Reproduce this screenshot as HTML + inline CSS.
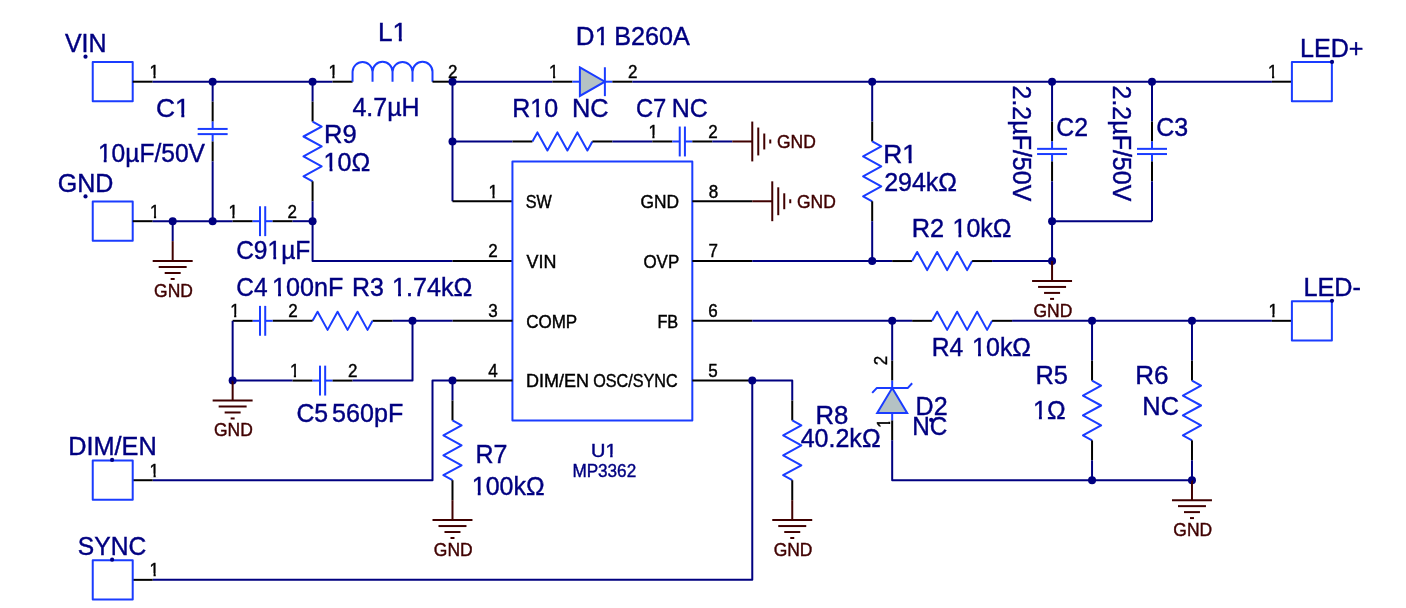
<!DOCTYPE html>
<html><head><meta charset="utf-8"><style>
html,body{margin:0;padding:0;background:#fff;}
svg{display:block;will-change:transform;}
text{font-family:"Liberation Sans",sans-serif;stroke-width:0.4px;}
</style></head><body>
<svg width="1406" height="608" viewBox="0 0 1406 608">
<rect width="1406" height="608" fill="#fff"/>
<path d="M92.74,62.08 L132.71,62.08 L132.71,101.33 L92.74,101.33 Z" stroke="#1a3cff" stroke-width="2.0" fill="none" stroke-linejoin="round"/>
<path d="M132.71,81.7 L152.69,81.7" stroke="#000000" stroke-width="2.0" fill="none" stroke-linejoin="round"/>
<path d="M152.69,81.7 L332.57,81.7" stroke="#000080" stroke-width="2.0" fill="none" stroke-linejoin="round"/>
<circle cx="212.65" cy="81.7" r="4" fill="#000080"/>
<circle cx="312.58" cy="81.7" r="4" fill="#000080"/>
<path d="M212.65,81.7 L212.65,101.63" stroke="#000080" stroke-width="2.0" fill="none" stroke-linejoin="round"/>
<path d="M212.65,101.63 L212.65,121.56" stroke="#000000" stroke-width="2.0" fill="none" stroke-linejoin="round"/>
<path d="M212.65,121.56 L212.65,128.93" stroke="#1a3cff" stroke-width="2.0" fill="none" stroke-linejoin="round"/>
<path d="M212.65,134.11 L212.65,141.48" stroke="#1a3cff" stroke-width="2.0" fill="none" stroke-linejoin="round"/>
<path d="M197.66,128.93 L227.64,128.93" stroke="#1a3cff" stroke-width="2.0" fill="none" stroke-linejoin="round"/>
<path d="M197.66,134.11 L227.64,134.11" stroke="#1a3cff" stroke-width="2.0" fill="none" stroke-linejoin="round"/>
<path d="M212.65,141.48 L212.65,161.41" stroke="#000000" stroke-width="2.0" fill="none" stroke-linejoin="round"/>
<path d="M212.65,161.41 L212.65,221.19" stroke="#000080" stroke-width="2.0" fill="none" stroke-linejoin="round"/>
<path d="M312.58,81.7 L312.58,101.63" stroke="#000080" stroke-width="2.0" fill="none" stroke-linejoin="round"/>
<path d="M312.58,101.63 L312.58,121.56" stroke="#000000" stroke-width="2.0" fill="none" stroke-linejoin="round"/>
<path d="M312.58,121.56 L321.68,126.54 L303.49,136.5 L321.68,146.46 L303.49,156.43 L321.68,166.39 L303.49,176.35 L312.58,181.33" stroke="#1a3cff" stroke-width="2.0" fill="none" stroke-linejoin="round"/>
<path d="M312.58,181.33 L312.58,201.26" stroke="#000000" stroke-width="2.0" fill="none" stroke-linejoin="round"/>
<path d="M312.58,201.26 L312.58,221.19" stroke="#000080" stroke-width="2.0" fill="none" stroke-linejoin="round"/>
<path d="M92.74,201.56 L132.71,201.56 L132.71,240.81 L92.74,240.81 Z" stroke="#1a3cff" stroke-width="2.0" fill="none" stroke-linejoin="round"/>
<path d="M132.71,221.19 L152.69,221.19" stroke="#000000" stroke-width="2.0" fill="none" stroke-linejoin="round"/>
<path d="M152.69,221.19 L232.64,221.19" stroke="#000080" stroke-width="2.0" fill="none" stroke-linejoin="round"/>
<circle cx="172.68" cy="221.19" r="4" fill="#000080"/>
<circle cx="212.65" cy="221.19" r="4" fill="#000080"/>
<path d="M172.68,221.19 L172.68,241.11" stroke="#000080" stroke-width="2.0" fill="none" stroke-linejoin="round"/>
<path d="M172.68,241.11 L172.68,261.04" stroke="#400000" stroke-width="2.0" fill="none" stroke-linejoin="round"/>
<path d="M152.69,261.04 L192.67,261.04" stroke="#400000" stroke-width="2.0" fill="none" stroke-linejoin="round"/>
<path d="M158.69,267.02 L186.67,267.02" stroke="#400000" stroke-width="2.0" fill="none" stroke-linejoin="round"/>
<path d="M164.69,272.99 L180.68,272.99" stroke="#400000" stroke-width="2.0" fill="none" stroke-linejoin="round"/>
<path d="M170.68,278.97 L174.68,278.97" stroke="#400000" stroke-width="2.0" fill="none" stroke-linejoin="round"/>
<path d="M232.64,221.19 L252.62,221.19" stroke="#000000" stroke-width="2.0" fill="none" stroke-linejoin="round"/>
<path d="M252.62,221.19 L260.02,221.19" stroke="#1a3cff" stroke-width="2.0" fill="none" stroke-linejoin="round"/>
<path d="M265.22,221.19 L272.61,221.19" stroke="#1a3cff" stroke-width="2.0" fill="none" stroke-linejoin="round"/>
<path d="M260.02,206.24 L260.02,236.13" stroke="#1a3cff" stroke-width="2.0" fill="none" stroke-linejoin="round"/>
<path d="M265.22,206.24 L265.22,236.13" stroke="#1a3cff" stroke-width="2.0" fill="none" stroke-linejoin="round"/>
<path d="M272.61,221.19 L292.6,221.19" stroke="#000000" stroke-width="2.0" fill="none" stroke-linejoin="round"/>
<path d="M292.6,221.19 L312.58,221.19" stroke="#000080" stroke-width="2.0" fill="none" stroke-linejoin="round"/>
<circle cx="312.58" cy="221.19" r="4" fill="#000080"/>
<path d="M312.58,221.19 L312.58,261.04 L452.49,261.04" stroke="#000080" stroke-width="2.0" fill="none" stroke-linejoin="round"/>
<path d="M452.49,261.04 L512.44,261.04" stroke="#000000" stroke-width="2.0" fill="none" stroke-linejoin="round"/>
<path d="M332.57,81.7 L352.56,81.7" stroke="#000000" stroke-width="2.0" fill="none" stroke-linejoin="round"/>
<path d="M352.56,81.7 L352.56,71.74 A9.993,9.963 0 0 1 372.54,71.74 L372.54,81.7 M372.54,81.7 L372.54,71.74 A9.993,9.963 0 0 1 392.53,71.74 L392.53,81.7 M392.53,81.7 L392.53,71.74 A9.993,9.963 0 0 1 412.51,71.74 L412.51,81.7 M412.51,81.7 L412.51,71.74 A9.993,9.963 0 0 1 432.5,71.74 L432.5,81.7" stroke="#1a3cff" stroke-width="2.0" fill="none"/>
<path d="M432.5,81.7 L452.49,81.7" stroke="#000000" stroke-width="2.0" fill="none" stroke-linejoin="round"/>
<circle cx="452.49" cy="81.7" r="4" fill="#000080"/>
<path d="M452.49,81.7 L552.41,81.7" stroke="#000080" stroke-width="2.0" fill="none" stroke-linejoin="round"/>
<path d="M552.41,81.7 L572.4,81.7" stroke="#000000" stroke-width="2.0" fill="none" stroke-linejoin="round"/>
<path d="M572.4,81.7 L579.9,81.7" stroke="#1a3cff" stroke-width="2.0" fill="none" stroke-linejoin="round"/>
<path d="M604.88,81.7 L612.37,81.7" stroke="#1a3cff" stroke-width="2.0" fill="none" stroke-linejoin="round"/>
<path d="M579.9,67.46 L604.88,81.7 L579.9,95.95 Z" fill="#b4c2c4" stroke="#1a3cff" stroke-width="2.0" stroke-linejoin="miter"/>
<path d="M604.88,67.26 L604.88,96.15" stroke="#1a3cff" stroke-width="2.0" fill="none" stroke-linejoin="round"/>
<path d="M612.37,81.7 L632.36,81.7" stroke="#000000" stroke-width="2.0" fill="none" stroke-linejoin="round"/>
<path d="M632.36,81.7 L1271.91,81.7" stroke="#000080" stroke-width="2.0" fill="none" stroke-linejoin="round"/>
<path d="M1271.91,81.7 L1291.9,81.7" stroke="#000000" stroke-width="2.0" fill="none" stroke-linejoin="round"/>
<path d="M1291.9,62.08 L1331.87,62.08 L1331.87,101.33 L1291.9,101.33 Z" stroke="#1a3cff" stroke-width="2.0" fill="none" stroke-linejoin="round"/>
<path d="M452.49,81.7 L452.49,201.26" stroke="#000080" stroke-width="2.0" fill="none" stroke-linejoin="round"/>
<circle cx="452.49" cy="141.48" r="4" fill="#000080"/>
<path d="M452.49,201.26 L512.44,201.26" stroke="#000000" stroke-width="2.0" fill="none" stroke-linejoin="round"/>
<path d="M452.49,141.48 L512.44,141.48" stroke="#000080" stroke-width="2.0" fill="none" stroke-linejoin="round"/>
<path d="M512.44,141.48 L532.43,141.48" stroke="#000000" stroke-width="2.0" fill="none" stroke-linejoin="round"/>
<path d="M532.43,141.48 L537.43,132.42 L547.42,150.55 L557.41,132.42 L567.4,150.55 L577.4,132.42 L587.39,150.55 L592.39,141.48" stroke="#1a3cff" stroke-width="2.0" fill="none" stroke-linejoin="round"/>
<path d="M592.39,141.48 L612.37,141.48" stroke="#000000" stroke-width="2.0" fill="none" stroke-linejoin="round"/>
<path d="M612.37,141.48 L652.34,141.48" stroke="#000080" stroke-width="2.0" fill="none" stroke-linejoin="round"/>
<path d="M652.34,141.48 L672.33,141.48" stroke="#000000" stroke-width="2.0" fill="none" stroke-linejoin="round"/>
<path d="M672.33,141.48 L679.73,141.48" stroke="#1a3cff" stroke-width="2.0" fill="none" stroke-linejoin="round"/>
<path d="M684.92,141.48 L692.32,141.48" stroke="#1a3cff" stroke-width="2.0" fill="none" stroke-linejoin="round"/>
<path d="M679.73,126.54 L679.73,156.43" stroke="#1a3cff" stroke-width="2.0" fill="none" stroke-linejoin="round"/>
<path d="M684.92,126.54 L684.92,156.43" stroke="#1a3cff" stroke-width="2.0" fill="none" stroke-linejoin="round"/>
<path d="M692.32,141.48 L712.3,141.48" stroke="#000000" stroke-width="2.0" fill="none" stroke-linejoin="round"/>
<path d="M712.3,141.48 L732.29,141.48" stroke="#000080" stroke-width="2.0" fill="none" stroke-linejoin="round"/>
<path d="M732.29,141.48 L752.27,141.48" stroke="#400000" stroke-width="2.0" fill="none" stroke-linejoin="round"/>
<path d="M752.27,121.56 L752.27,161.41" stroke="#400000" stroke-width="2.0" fill="none" stroke-linejoin="round"/>
<path d="M758.27,127.53 L758.27,155.43" stroke="#400000" stroke-width="2.0" fill="none" stroke-linejoin="round"/>
<path d="M764.27,133.51 L764.27,149.45" stroke="#400000" stroke-width="2.0" fill="none" stroke-linejoin="round"/>
<path d="M770.26,139.49 L770.26,143.47" stroke="#400000" stroke-width="2.0" fill="none" stroke-linejoin="round"/>
<path d="M512.44,161.41 L692.32,161.41 L692.32,420.45 L512.44,420.45 Z" stroke="#1a3cff" stroke-width="2.0" fill="none" stroke-linejoin="round"/>
<path d="M692.32,201.26 L752.27,201.26" stroke="#000000" stroke-width="2.0" fill="none" stroke-linejoin="round"/>
<path d="M752.27,201.26 L772.26,201.26" stroke="#400000" stroke-width="2.0" fill="none" stroke-linejoin="round"/>
<path d="M772.26,181.33 L772.26,221.19" stroke="#400000" stroke-width="2.0" fill="none" stroke-linejoin="round"/>
<path d="M778.26,187.31 L778.26,215.21" stroke="#400000" stroke-width="2.0" fill="none" stroke-linejoin="round"/>
<path d="M784.25,193.29 L784.25,209.23" stroke="#400000" stroke-width="2.0" fill="none" stroke-linejoin="round"/>
<path d="M790.25,199.27 L790.25,203.25" stroke="#400000" stroke-width="2.0" fill="none" stroke-linejoin="round"/>
<path d="M692.32,261.04 L752.27,261.04" stroke="#000000" stroke-width="2.0" fill="none" stroke-linejoin="round"/>
<path d="M752.27,261.04 L892.18,261.04" stroke="#000080" stroke-width="2.0" fill="none" stroke-linejoin="round"/>
<circle cx="872.19" cy="261.04" r="4" fill="#000080"/>
<path d="M892.18,261.04 L912.16,261.04" stroke="#000000" stroke-width="2.0" fill="none" stroke-linejoin="round"/>
<path d="M912.16,261.04 L917.16,251.97 L927.15,270.1 L937.15,251.97 L947.14,270.1 L957.13,251.97 L967.12,270.1 L972.12,261.04" stroke="#1a3cff" stroke-width="2.0" fill="none" stroke-linejoin="round"/>
<path d="M972.12,261.04 L992.11,261.04" stroke="#000000" stroke-width="2.0" fill="none" stroke-linejoin="round"/>
<path d="M992.11,261.04 L1052.06,261.04" stroke="#000080" stroke-width="2.0" fill="none" stroke-linejoin="round"/>
<circle cx="1052.06" cy="261.04" r="4" fill="#000080"/>
<path d="M1052.06,261.04 L1052.06,280.96" stroke="#400000" stroke-width="2.0" fill="none" stroke-linejoin="round"/>
<path d="M1032.08,280.96 L1072.05,280.96" stroke="#400000" stroke-width="2.0" fill="none" stroke-linejoin="round"/>
<path d="M1038.07,286.94 L1066.06,286.94" stroke="#400000" stroke-width="2.0" fill="none" stroke-linejoin="round"/>
<path d="M1044.07,292.92 L1060.06,292.92" stroke="#400000" stroke-width="2.0" fill="none" stroke-linejoin="round"/>
<path d="M1050.07,298.9 L1054.06,298.9" stroke="#400000" stroke-width="2.0" fill="none" stroke-linejoin="round"/>
<circle cx="872.19" cy="81.7" r="4" fill="#000080"/>
<path d="M872.19,81.7 L872.19,121.56" stroke="#000080" stroke-width="2.0" fill="none" stroke-linejoin="round"/>
<path d="M872.19,121.56 L872.19,141.48" stroke="#000000" stroke-width="2.0" fill="none" stroke-linejoin="round"/>
<path d="M872.19,141.48 L881.28,146.46 L863.1,156.43 L881.28,166.39 L863.1,176.35 L881.28,186.32 L863.1,196.28 L872.19,201.26" stroke="#1a3cff" stroke-width="2.0" fill="none" stroke-linejoin="round"/>
<path d="M872.19,201.26 L872.19,221.19" stroke="#000000" stroke-width="2.0" fill="none" stroke-linejoin="round"/>
<path d="M872.19,221.19 L872.19,261.04" stroke="#000080" stroke-width="2.0" fill="none" stroke-linejoin="round"/>
<circle cx="1052.06" cy="81.7" r="4" fill="#000080"/>
<path d="M1052.06,81.7 L1052.06,121.56" stroke="#000080" stroke-width="2.0" fill="none" stroke-linejoin="round"/>
<path d="M1052.06,121.56 L1052.06,141.48" stroke="#000000" stroke-width="2.0" fill="none" stroke-linejoin="round"/>
<path d="M1052.06,141.48 L1052.06,148.85" stroke="#1a3cff" stroke-width="2.0" fill="none" stroke-linejoin="round"/>
<path d="M1052.06,154.04 L1052.06,161.41" stroke="#1a3cff" stroke-width="2.0" fill="none" stroke-linejoin="round"/>
<path d="M1037.08,148.85 L1067.05,148.85" stroke="#1a3cff" stroke-width="2.0" fill="none" stroke-linejoin="round"/>
<path d="M1037.08,154.04 L1067.05,154.04" stroke="#1a3cff" stroke-width="2.0" fill="none" stroke-linejoin="round"/>
<path d="M1052.06,161.41 L1052.06,181.33" stroke="#000000" stroke-width="2.0" fill="none" stroke-linejoin="round"/>
<path d="M1052.06,181.33 L1052.06,221.19" stroke="#000080" stroke-width="2.0" fill="none" stroke-linejoin="round"/>
<circle cx="1151.99" cy="81.7" r="4" fill="#000080"/>
<path d="M1151.99,81.7 L1151.99,121.56" stroke="#000080" stroke-width="2.0" fill="none" stroke-linejoin="round"/>
<path d="M1151.99,121.56 L1151.99,141.48" stroke="#000000" stroke-width="2.0" fill="none" stroke-linejoin="round"/>
<path d="M1151.99,141.48 L1151.99,148.85" stroke="#1a3cff" stroke-width="2.0" fill="none" stroke-linejoin="round"/>
<path d="M1151.99,154.04 L1151.99,161.41" stroke="#1a3cff" stroke-width="2.0" fill="none" stroke-linejoin="round"/>
<path d="M1137.01,148.85 L1166.98,148.85" stroke="#1a3cff" stroke-width="2.0" fill="none" stroke-linejoin="round"/>
<path d="M1137.01,154.04 L1166.98,154.04" stroke="#1a3cff" stroke-width="2.0" fill="none" stroke-linejoin="round"/>
<path d="M1151.99,161.41 L1151.99,181.33" stroke="#000000" stroke-width="2.0" fill="none" stroke-linejoin="round"/>
<path d="M1151.99,181.33 L1151.99,221.19" stroke="#000080" stroke-width="2.0" fill="none" stroke-linejoin="round"/>
<path d="M1151.99,221.19 L1052.06,221.19 L1052.06,261.04" stroke="#000080" stroke-width="2.0" fill="none" stroke-linejoin="round"/>
<circle cx="1052.06" cy="221.19" r="4" fill="#000080"/>
<path d="M692.32,320.82 L752.27,320.82" stroke="#000000" stroke-width="2.0" fill="none" stroke-linejoin="round"/>
<path d="M752.27,320.82 L912.16,320.82" stroke="#000080" stroke-width="2.0" fill="none" stroke-linejoin="round"/>
<circle cx="892.18" cy="320.82" r="4" fill="#000080"/>
<path d="M912.16,320.82 L932.15,320.82" stroke="#000000" stroke-width="2.0" fill="none" stroke-linejoin="round"/>
<path d="M932.15,320.82 L937.15,311.75 L947.14,329.88 L957.13,311.75 L967.12,329.88 L977.12,311.75 L987.11,329.88 L992.11,320.82" stroke="#1a3cff" stroke-width="2.0" fill="none" stroke-linejoin="round"/>
<path d="M992.11,320.82 L1012.09,320.82" stroke="#000000" stroke-width="2.0" fill="none" stroke-linejoin="round"/>
<path d="M1012.09,320.82 L1271.91,320.82" stroke="#000080" stroke-width="2.0" fill="none" stroke-linejoin="round"/>
<path d="M1271.91,320.82 L1291.9,320.82" stroke="#000000" stroke-width="2.0" fill="none" stroke-linejoin="round"/>
<path d="M1291.9,301.19 L1331.87,301.19 L1331.87,340.44 L1291.9,340.44 Z" stroke="#1a3cff" stroke-width="2.0" fill="none" stroke-linejoin="round"/>
<circle cx="1092.04" cy="320.82" r="4" fill="#000080"/>
<circle cx="1191.97" cy="320.82" r="4" fill="#000080"/>
<path d="M1092.04,320.82 L1092.04,360.67" stroke="#000080" stroke-width="2.0" fill="none" stroke-linejoin="round"/>
<path d="M1092.04,360.67 L1092.04,380.59" stroke="#000000" stroke-width="2.0" fill="none" stroke-linejoin="round"/>
<path d="M1092.04,380.59 L1101.13,385.58 L1082.94,395.54 L1101.13,405.5 L1082.94,415.46 L1101.13,425.43 L1082.94,435.39 L1092.04,440.37" stroke="#1a3cff" stroke-width="2.0" fill="none" stroke-linejoin="round"/>
<path d="M1092.04,440.37 L1092.04,460.3" stroke="#000000" stroke-width="2.0" fill="none" stroke-linejoin="round"/>
<path d="M1092.04,460.3 L1092.04,480.22" stroke="#000080" stroke-width="2.0" fill="none" stroke-linejoin="round"/>
<path d="M1191.97,320.82 L1191.97,360.67" stroke="#000080" stroke-width="2.0" fill="none" stroke-linejoin="round"/>
<path d="M1191.97,360.67 L1191.97,380.59" stroke="#000000" stroke-width="2.0" fill="none" stroke-linejoin="round"/>
<path d="M1191.97,380.59 L1201.06,385.58 L1182.87,395.54 L1201.06,405.5 L1182.87,415.46 L1201.06,425.43 L1182.87,435.39 L1191.97,440.37" stroke="#1a3cff" stroke-width="2.0" fill="none" stroke-linejoin="round"/>
<path d="M1191.97,440.37 L1191.97,460.3" stroke="#000000" stroke-width="2.0" fill="none" stroke-linejoin="round"/>
<path d="M1191.97,460.3 L1191.97,480.22" stroke="#000080" stroke-width="2.0" fill="none" stroke-linejoin="round"/>
<circle cx="1092.04" cy="480.22" r="4" fill="#000080"/>
<circle cx="1191.97" cy="480.22" r="4" fill="#000080"/>
<path d="M1191.97,480.22 L1191.97,500.15" stroke="#400000" stroke-width="2.0" fill="none" stroke-linejoin="round"/>
<path d="M1171.98,500.15 L1211.95,500.15" stroke="#400000" stroke-width="2.0" fill="none" stroke-linejoin="round"/>
<path d="M1177.98,506.13 L1205.96,506.13" stroke="#400000" stroke-width="2.0" fill="none" stroke-linejoin="round"/>
<path d="M1183.97,512.11 L1199.96,512.11" stroke="#400000" stroke-width="2.0" fill="none" stroke-linejoin="round"/>
<path d="M1189.97,518.08 L1193.97,518.08" stroke="#400000" stroke-width="2.0" fill="none" stroke-linejoin="round"/>
<path d="M892.18,320.82 L892.18,360.67" stroke="#000080" stroke-width="2.0" fill="none" stroke-linejoin="round"/>
<path d="M892.18,360.67 L892.18,380.59" stroke="#000000" stroke-width="2.0" fill="none" stroke-linejoin="round"/>
<path d="M892.18,380.59 L892.18,388.07" stroke="#1a3cff" stroke-width="2.0" fill="none" stroke-linejoin="round"/>
<path d="M892.18,388.07 L907.17,412.97 L877.19,412.97 Z" fill="#b4c2c4" stroke="#1a3cff" stroke-width="2.0" stroke-linejoin="miter"/>
<path d="M872.19,392.85 L876.69,388.07 L907.67,388.07 L912.16,383.28" stroke="#1a3cff" stroke-width="2.0" fill="none" stroke-linejoin="round"/>
<path d="M892.18,412.97 L892.18,420.45" stroke="#1a3cff" stroke-width="2.0" fill="none" stroke-linejoin="round"/>
<path d="M892.18,420.45 L892.18,440.37" stroke="#000000" stroke-width="2.0" fill="none" stroke-linejoin="round"/>
<path d="M892.18,440.37 L892.18,480.22 L1191.97,480.22" stroke="#000080" stroke-width="2.0" fill="none" stroke-linejoin="round"/>
<path d="M692.32,380.59 L752.27,380.59" stroke="#000000" stroke-width="2.0" fill="none" stroke-linejoin="round"/>
<circle cx="752.27" cy="380.59" r="4" fill="#000080"/>
<path d="M752.27,380.59 L792.25,380.59 L792.25,400.52" stroke="#000080" stroke-width="2.0" fill="none" stroke-linejoin="round"/>
<path d="M792.25,400.52 L792.25,420.45" stroke="#000000" stroke-width="2.0" fill="none" stroke-linejoin="round"/>
<path d="M792.25,420.45 L801.34,425.43 L783.15,435.39 L801.34,445.35 L783.15,455.32 L801.34,465.28 L783.15,475.24 L792.25,480.22" stroke="#1a3cff" stroke-width="2.0" fill="none" stroke-linejoin="round"/>
<path d="M792.25,480.22 L792.25,500.15" stroke="#000000" stroke-width="2.0" fill="none" stroke-linejoin="round"/>
<path d="M792.25,500.15 L792.25,520.08" stroke="#400000" stroke-width="2.0" fill="none" stroke-linejoin="round"/>
<path d="M772.26,520.08 L812.23,520.08" stroke="#400000" stroke-width="2.0" fill="none" stroke-linejoin="round"/>
<path d="M778.26,526.05 L806.24,526.05" stroke="#400000" stroke-width="2.0" fill="none" stroke-linejoin="round"/>
<path d="M784.25,532.03 L800.24,532.03" stroke="#400000" stroke-width="2.0" fill="none" stroke-linejoin="round"/>
<path d="M790.25,538.01 L794.25,538.01" stroke="#400000" stroke-width="2.0" fill="none" stroke-linejoin="round"/>
<path d="M752.27,380.59 L752.27,579.85 L152.69,579.85" stroke="#000080" stroke-width="2.0" fill="none" stroke-linejoin="round"/>
<path d="M152.69,579.85 L132.71,579.85" stroke="#000000" stroke-width="2.0" fill="none" stroke-linejoin="round"/>
<path d="M92.74,560.23 L132.71,560.23 L132.71,599.48 L92.74,599.48 Z" stroke="#1a3cff" stroke-width="2.0" fill="none" stroke-linejoin="round"/>
<path d="M452.49,380.59 L512.44,380.59" stroke="#000000" stroke-width="2.0" fill="none" stroke-linejoin="round"/>
<circle cx="452.49" cy="380.59" r="4" fill="#000080"/>
<path d="M452.49,380.59 L432.5,380.59 L432.5,480.22 L152.69,480.22" stroke="#000080" stroke-width="2.0" fill="none" stroke-linejoin="round"/>
<path d="M152.69,480.22 L132.71,480.22" stroke="#000000" stroke-width="2.0" fill="none" stroke-linejoin="round"/>
<path d="M92.74,460.6 L132.71,460.6 L132.71,499.85 L92.74,499.85 Z" stroke="#1a3cff" stroke-width="2.0" fill="none" stroke-linejoin="round"/>
<path d="M452.49,380.59 L452.49,400.52" stroke="#000080" stroke-width="2.0" fill="none" stroke-linejoin="round"/>
<path d="M452.49,400.52 L452.49,420.45" stroke="#000000" stroke-width="2.0" fill="none" stroke-linejoin="round"/>
<path d="M452.49,420.45 L461.58,425.43 L443.39,435.39 L461.58,445.35 L443.39,455.32 L461.58,465.28 L443.39,475.24 L452.49,480.22" stroke="#1a3cff" stroke-width="2.0" fill="none" stroke-linejoin="round"/>
<path d="M452.49,480.22 L452.49,500.15" stroke="#000000" stroke-width="2.0" fill="none" stroke-linejoin="round"/>
<path d="M452.49,500.15 L452.49,520.08" stroke="#400000" stroke-width="2.0" fill="none" stroke-linejoin="round"/>
<path d="M432.5,520.08 L472.47,520.08" stroke="#400000" stroke-width="2.0" fill="none" stroke-linejoin="round"/>
<path d="M438.49,526.05 L466.48,526.05" stroke="#400000" stroke-width="2.0" fill="none" stroke-linejoin="round"/>
<path d="M444.49,532.03 L460.48,532.03" stroke="#400000" stroke-width="2.0" fill="none" stroke-linejoin="round"/>
<path d="M450.49,538.01 L454.48,538.01" stroke="#400000" stroke-width="2.0" fill="none" stroke-linejoin="round"/>
<path d="M452.49,320.82 L512.44,320.82" stroke="#000000" stroke-width="2.0" fill="none" stroke-linejoin="round"/>
<path d="M452.49,320.82 L392.53,320.82" stroke="#000080" stroke-width="2.0" fill="none" stroke-linejoin="round"/>
<circle cx="412.51" cy="320.82" r="4" fill="#000080"/>
<path d="M392.53,320.82 L372.54,320.82" stroke="#000000" stroke-width="2.0" fill="none" stroke-linejoin="round"/>
<path d="M312.58,320.82 L317.58,311.75 L327.57,329.88 L337.57,311.75 L347.56,329.88 L357.55,311.75 L367.54,329.88 L372.54,320.82" stroke="#1a3cff" stroke-width="2.0" fill="none" stroke-linejoin="round"/>
<path d="M312.58,320.82 L272.61,320.82" stroke="#000000" stroke-width="2.0" fill="none" stroke-linejoin="round"/>
<path d="M252.62,320.82 L260.02,320.82" stroke="#1a3cff" stroke-width="2.0" fill="none" stroke-linejoin="round"/>
<path d="M265.22,320.82 L272.61,320.82" stroke="#1a3cff" stroke-width="2.0" fill="none" stroke-linejoin="round"/>
<path d="M260.02,305.87 L260.02,335.76" stroke="#1a3cff" stroke-width="2.0" fill="none" stroke-linejoin="round"/>
<path d="M265.22,305.87 L265.22,335.76" stroke="#1a3cff" stroke-width="2.0" fill="none" stroke-linejoin="round"/>
<path d="M252.62,320.82 L232.64,320.82" stroke="#000000" stroke-width="2.0" fill="none" stroke-linejoin="round"/>
<path d="M232.64,320.82 L232.64,380.59" stroke="#000080" stroke-width="2.0" fill="none" stroke-linejoin="round"/>
<circle cx="232.64" cy="380.59" r="4" fill="#000080"/>
<path d="M232.64,380.59 L232.64,400.52" stroke="#400000" stroke-width="2.0" fill="none" stroke-linejoin="round"/>
<path d="M212.65,400.52 L252.62,400.52" stroke="#400000" stroke-width="2.0" fill="none" stroke-linejoin="round"/>
<path d="M218.65,406.5 L246.63,406.5" stroke="#400000" stroke-width="2.0" fill="none" stroke-linejoin="round"/>
<path d="M224.64,412.48 L240.63,412.48" stroke="#400000" stroke-width="2.0" fill="none" stroke-linejoin="round"/>
<path d="M230.64,418.45 L234.64,418.45" stroke="#400000" stroke-width="2.0" fill="none" stroke-linejoin="round"/>
<path d="M232.64,380.59 L292.6,380.59" stroke="#000080" stroke-width="2.0" fill="none" stroke-linejoin="round"/>
<path d="M292.6,380.59 L312.58,380.59" stroke="#000000" stroke-width="2.0" fill="none" stroke-linejoin="round"/>
<path d="M312.58,380.59 L319.98,380.59" stroke="#1a3cff" stroke-width="2.0" fill="none" stroke-linejoin="round"/>
<path d="M325.17,380.59 L332.57,380.59" stroke="#1a3cff" stroke-width="2.0" fill="none" stroke-linejoin="round"/>
<path d="M319.98,365.65 L319.98,395.54" stroke="#1a3cff" stroke-width="2.0" fill="none" stroke-linejoin="round"/>
<path d="M325.17,365.65 L325.17,395.54" stroke="#1a3cff" stroke-width="2.0" fill="none" stroke-linejoin="round"/>
<path d="M332.57,380.59 L352.56,380.59" stroke="#000000" stroke-width="2.0" fill="none" stroke-linejoin="round"/>
<path d="M352.56,380.59 L412.51,380.59 L412.51,320.82" stroke="#000080" stroke-width="2.0" fill="none" stroke-linejoin="round"/>
<circle cx="85.5" cy="56.7" r="2.1" fill="#000080"/>
<circle cx="85.5" cy="196.4" r="2.1" fill="#000080"/>
<circle cx="112.1" cy="459.9" r="2.1" fill="#000080"/>
<circle cx="112.1" cy="559.7" r="2.1" fill="#000080"/>
<circle cx="1332" cy="61.9" r="2.1" fill="#000080"/>
<circle cx="1332" cy="300.8" r="2.1" fill="#000080"/>
<circle cx="931.2" cy="419.9" r="2.1" fill="#000080"/>
<text transform="translate(64.89,52.2) scale(1,1.045)" font-size="25" fill="#000080" stroke="#000080" text-anchor="start" textLength="41.65" lengthAdjust="spacingAndGlyphs">VIN</text>
<g transform="translate(155.93,117) scale(1,1.045)"><text font-size="25" fill="#000080" stroke="#000080" text-anchor="start" textLength="33.78" lengthAdjust="spacingAndGlyphs">C1</text><rect x="19.78" y="-3.47" width="5.60" height="4.67" fill="#fff"/><rect x="28.41" y="-3.47" width="5.39" height="4.67" fill="#fff"/></g>
<g transform="translate(97.9,162.3) scale(1,1.045)"><text font-size="25" fill="#000080" stroke="#000080" text-anchor="start" textLength="107.11" lengthAdjust="spacingAndGlyphs">10µF/50V</text><rect x="0.59" y="-3.47" width="5.24" height="4.67" fill="#fff"/><rect x="8.71" y="-3.47" width="5.05" height="4.67" fill="#fff"/></g>
<text transform="translate(57.64,191.9) scale(1,1.045)" font-size="25" fill="#000080" stroke="#000080" text-anchor="start" textLength="55.75" lengthAdjust="spacingAndGlyphs">GND</text>
<text transform="translate(323.95,142.6) scale(1,1.045)" font-size="25" fill="#000080" stroke="#000080" text-anchor="start" textLength="32.63" lengthAdjust="spacingAndGlyphs">R9</text>
<g transform="translate(323.6,171.2) scale(1,1.045)"><text font-size="25" fill="#000080" stroke="#000080" text-anchor="start" textLength="46.68" lengthAdjust="spacingAndGlyphs">10Ω</text><rect x="0.62" y="-3.47" width="5.34" height="4.67" fill="#fff"/><rect x="8.88" y="-3.47" width="5.14" height="4.67" fill="#fff"/></g>
<g transform="translate(378.05,40.9) scale(1,1.045)"><text font-size="25" fill="#000080" stroke="#000080" text-anchor="start" textLength="29.06" lengthAdjust="spacingAndGlyphs">L1</text><rect x="15.21" y="-3.47" width="5.54" height="4.67" fill="#fff"/><rect x="23.76" y="-3.47" width="5.34" height="4.67" fill="#fff"/></g>
<text transform="translate(352.43,115.5) scale(1,1.045)" font-size="25" fill="#000080" stroke="#000080" text-anchor="start" textLength="67.11" lengthAdjust="spacingAndGlyphs">4.7µH</text>
<g transform="translate(575.85,45.3) scale(1,1.045)"><text font-size="25" fill="#000080" stroke="#000080" text-anchor="start" textLength="33.26" lengthAdjust="spacingAndGlyphs">D1</text><rect x="19.46" y="-3.47" width="5.52" height="4.67" fill="#fff"/><rect x="27.98" y="-3.47" width="5.32" height="4.67" fill="#fff"/></g>
<text transform="translate(614.15,45.3) scale(1,1.045)" font-size="25" fill="#000080" stroke="#000080" text-anchor="start" textLength="75.60" lengthAdjust="spacingAndGlyphs">B260A</text>
<text transform="translate(571.95,116.9) scale(1,1.045)" font-size="25" fill="#000080" stroke="#000080" text-anchor="start" textLength="36.60" lengthAdjust="spacingAndGlyphs">NC</text>
<g transform="translate(512.25,116.9) scale(1,1.045)"><text font-size="25" fill="#000080" stroke="#000080" text-anchor="start" textLength="45.83" lengthAdjust="spacingAndGlyphs">R10</text><rect x="18.66" y="-3.47" width="5.32" height="4.67" fill="#fff"/><rect x="26.88" y="-3.47" width="5.12" height="4.67" fill="#fff"/></g>
<text transform="translate(635.93,116.9) scale(1,1.045)" font-size="25" fill="#000080" stroke="#000080" text-anchor="start" textLength="30.43" lengthAdjust="spacingAndGlyphs">C7</text>
<text transform="translate(671.75,116.9) scale(1,1.045)" font-size="25" fill="#000080" stroke="#000080" text-anchor="start" textLength="36.10" lengthAdjust="spacingAndGlyphs">NC</text>
<g transform="translate(236.13,259.3) scale(1,1.045)"><text font-size="25" fill="#000080" stroke="#000080" text-anchor="start" textLength="74.17" lengthAdjust="spacingAndGlyphs">C91µF</text><rect x="31.97" y="-3.47" width="5.23" height="4.67" fill="#fff"/><rect x="40.07" y="-3.47" width="5.04" height="4.67" fill="#fff"/></g>
<text transform="translate(236.23,296.3) scale(1,1.045)" font-size="25" fill="#000080" stroke="#000080" text-anchor="start" textLength="31.30" lengthAdjust="spacingAndGlyphs">C4</text>
<g transform="translate(272.1,296.3) scale(1,1.045)"><text font-size="25" fill="#000080" stroke="#000080" text-anchor="start" textLength="71.31" lengthAdjust="spacingAndGlyphs">100nF</text><rect x="0.62" y="-3.47" width="5.35" height="4.67" fill="#fff"/><rect x="8.90" y="-3.47" width="5.15" height="4.67" fill="#fff"/></g>
<text transform="translate(352.05,296.3) scale(1,1.045)" font-size="25" fill="#000080" stroke="#000080" text-anchor="start" textLength="31.85" lengthAdjust="spacingAndGlyphs">R3</text>
<g transform="translate(392.1,296.3) scale(1,1.045)"><text font-size="25" fill="#000080" stroke="#000080" text-anchor="start" textLength="80.28" lengthAdjust="spacingAndGlyphs">1.74kΩ</text><rect x="0.62" y="-3.47" width="5.35" height="4.67" fill="#fff"/><rect x="8.89" y="-3.47" width="5.15" height="4.67" fill="#fff"/></g>
<text transform="translate(296.43,421.5) scale(1,1.045)" font-size="25" fill="#000080" stroke="#000080" text-anchor="start" textLength="31.72" lengthAdjust="spacingAndGlyphs">C5</text>
<text transform="translate(332.1,421.5) scale(1,1.045)" font-size="25" fill="#000080" stroke="#000080" text-anchor="start" textLength="71.10" lengthAdjust="spacingAndGlyphs">560pF</text>
<text transform="translate(68.15,455.2) scale(1,1.045)" font-size="25" fill="#000080" stroke="#000080" text-anchor="start" textLength="88.59" lengthAdjust="spacingAndGlyphs">DIM/EN</text>
<text transform="translate(77.86,554.8) scale(1,1.045)" font-size="25" fill="#000080" stroke="#000080" text-anchor="start" textLength="68.39" lengthAdjust="spacingAndGlyphs">SYNC</text>
<text transform="translate(475.45,462.8) scale(1,1.045)" font-size="25" fill="#000080" stroke="#000080" text-anchor="start">R7</text>
<g transform="translate(471.8,495) scale(1,1.045)"><text font-size="25" fill="#000080" stroke="#000080" text-anchor="start">100kΩ</text><rect x="0.62" y="-3.47" width="5.32" height="4.67" fill="#fff"/><rect x="8.85" y="-3.47" width="5.13" height="4.67" fill="#fff"/></g>
<text transform="translate(815.45,424.05) scale(1,1.045)" font-size="25" fill="#000080" stroke="#000080" text-anchor="start" textLength="32.94" lengthAdjust="spacingAndGlyphs">R8</text>
<text transform="translate(800.68,446.9) scale(1,1.045)" font-size="25" fill="#000080" stroke="#000080" text-anchor="start" textLength="79.90" lengthAdjust="spacingAndGlyphs">40.2kΩ</text>
<g transform="translate(883.35,163.3) scale(1,1.045)"><text font-size="25" fill="#000080" stroke="#000080" text-anchor="start" textLength="33.66" lengthAdjust="spacingAndGlyphs">R1</text><rect x="19.71" y="-3.47" width="5.58" height="4.67" fill="#fff"/><rect x="28.31" y="-3.47" width="5.37" height="4.67" fill="#fff"/></g>
<text transform="translate(884.14,191.2) scale(1,1.045)" font-size="25" fill="#000080" stroke="#000080" text-anchor="start" textLength="72.93" lengthAdjust="spacingAndGlyphs">294kΩ</text>
<text transform="translate(911.75,236.9) scale(1,1.045)" font-size="25" fill="#000080" stroke="#000080" text-anchor="start" textLength="32.41" lengthAdjust="spacingAndGlyphs">R2</text>
<g transform="translate(952.5,236.9) scale(1,1.045)"><text font-size="25" fill="#000080" stroke="#000080" text-anchor="start">10kΩ</text><rect x="0.62" y="-3.47" width="5.32" height="4.67" fill="#fff"/><rect x="8.85" y="-3.47" width="5.13" height="4.67" fill="#fff"/></g>
<text transform="translate(1056.23,136.4) scale(1,1.045)" font-size="25" fill="#000080" stroke="#000080" text-anchor="start" textLength="31.73" lengthAdjust="spacingAndGlyphs">C2</text>
<text transform="translate(1156.13,136.4) scale(1,1.045)" font-size="25" fill="#000080" stroke="#000080" text-anchor="start">C3</text>
<text transform="translate(1299.95,56.9) scale(1,1.045)" font-size="25" fill="#000080" stroke="#000080" text-anchor="start" textLength="63.48" lengthAdjust="spacingAndGlyphs">LED+</text>
<text transform="translate(1303.45,295.8) scale(1,1.045)" font-size="25" fill="#000080" stroke="#000080" text-anchor="start" textLength="57.46" lengthAdjust="spacingAndGlyphs">LED-</text>
<text transform="translate(931.75,356.3) scale(1,1.045)" font-size="25" fill="#000080" stroke="#000080" text-anchor="start" textLength="31.48" lengthAdjust="spacingAndGlyphs">R4</text>
<g transform="translate(972.1,356.3) scale(1,1.045)"><text font-size="25" fill="#000080" stroke="#000080" text-anchor="start">10kΩ</text><rect x="0.62" y="-3.47" width="5.32" height="4.67" fill="#fff"/><rect x="8.85" y="-3.47" width="5.13" height="4.67" fill="#fff"/></g>
<text transform="translate(1035.45,383.5) scale(1,1.045)" font-size="25" fill="#000080" stroke="#000080" text-anchor="start" textLength="32.50" lengthAdjust="spacingAndGlyphs">R5</text>
<g transform="translate(1033,418.6) scale(1,1.045)"><text font-size="25" fill="#000080" stroke="#000080" text-anchor="start">1Ω</text><rect x="0.62" y="-3.47" width="5.32" height="4.67" fill="#fff"/><rect x="8.85" y="-3.47" width="5.13" height="4.67" fill="#fff"/></g>
<text transform="translate(1135.15,383.5) scale(1,1.045)" font-size="25" fill="#000080" stroke="#000080" text-anchor="start" textLength="33.35" lengthAdjust="spacingAndGlyphs">R6</text>
<text transform="translate(1142.35,415.2) scale(1,1.045)" font-size="25" fill="#000080" stroke="#000080" text-anchor="start" textLength="36.70" lengthAdjust="spacingAndGlyphs">NC</text>
<text transform="translate(915.55,415.3) scale(1,1.045)" font-size="25" fill="#000080" stroke="#000080" text-anchor="start" textLength="32.01" lengthAdjust="spacingAndGlyphs">D2</text>
<text transform="translate(912.15,435) scale(1,1.045)" font-size="25" fill="#000080" stroke="#000080" text-anchor="start" textLength="35.10" lengthAdjust="spacingAndGlyphs">NC</text>
<text transform="translate(1013.4,85.54) rotate(90) scale(1,1.045)" font-size="25" fill="#000080" stroke="#000080" text-anchor="start">2.2µF/50V</text>
<text transform="translate(1113.3,85.54) rotate(90) scale(1,1.045)" font-size="25" fill="#000080" stroke="#000080" text-anchor="start">2.2µF/50V</text>
<g transform="translate(591.09,457.1) scale(1,1.045)"><text font-size="17" fill="#000080" stroke="#000080" text-anchor="start" textLength="25.49" lengthAdjust="spacingAndGlyphs">U1</text><rect x="14.73" y="-2.87" width="4.33" height="4.07" fill="#fff"/><rect x="21.53" y="-2.87" width="4.18" height="4.07" fill="#fff"/></g>
<text transform="translate(572.41,476.7) scale(1,1.045)" font-size="17" fill="#000080" stroke="#000080" text-anchor="start" textLength="63.75" lengthAdjust="spacingAndGlyphs">MP3362</text>
<text transform="translate(525.83,208.1) scale(1,1.045)" font-size="17" fill="#000000" stroke="#000000" text-anchor="start" textLength="26.03" lengthAdjust="spacingAndGlyphs">SW</text>
<text transform="translate(526.53,267.6) scale(1,1.045)" font-size="17" fill="#000000" stroke="#000000" text-anchor="start" textLength="29.86" lengthAdjust="spacingAndGlyphs">VIN</text>
<text transform="translate(526.14,327.6) scale(1,1.045)" font-size="17" fill="#000000" stroke="#000000" text-anchor="start" textLength="51.06" lengthAdjust="spacingAndGlyphs">COMP</text>
<text transform="translate(526.01,387.2) scale(1,1.045)" font-size="17" fill="#000000" stroke="#000000" text-anchor="start" textLength="62.98" lengthAdjust="spacingAndGlyphs">DIM/EN</text>
<text transform="translate(640.55,208.1) scale(1,1.045)" font-size="17" fill="#000000" stroke="#000000" text-anchor="start" textLength="38.57" lengthAdjust="spacingAndGlyphs">GND</text>
<text transform="translate(643.39,267.6) scale(1,1.045)" font-size="17" fill="#000000" stroke="#000000" text-anchor="start" textLength="35.80" lengthAdjust="spacingAndGlyphs">OVP</text>
<text transform="translate(657.41,327.6) scale(1,1.045)" font-size="17" fill="#000000" stroke="#000000" text-anchor="start" textLength="20.79" lengthAdjust="spacingAndGlyphs">FB</text>
<text transform="translate(593.29,387.2) scale(1,1.045)" font-size="17" fill="#000000" stroke="#000000" text-anchor="start" textLength="84.35" lengthAdjust="spacingAndGlyphs">OSC/SYNC</text>
<g transform="translate(149.5,77.9) scale(1,1.045)"><text font-size="17" fill="#000000" stroke="#000000" text-anchor="start">1</text><rect x="0.16" y="-2.87" width="3.76" height="4.07" fill="#fff"/><rect x="6.13" y="-2.87" width="3.63" height="4.07" fill="#fff"/></g>
<g transform="translate(150,217.7) scale(1,1.045)"><text font-size="17" fill="#000000" stroke="#000000" text-anchor="start">1</text><rect x="0.16" y="-2.87" width="3.76" height="4.07" fill="#fff"/><rect x="6.13" y="-2.87" width="3.63" height="4.07" fill="#fff"/></g>
<g transform="translate(328.4,77.9) scale(1,1.045)"><text font-size="17" fill="#000000" stroke="#000000" text-anchor="start">1</text><rect x="0.16" y="-2.87" width="3.76" height="4.07" fill="#fff"/><rect x="6.13" y="-2.87" width="3.63" height="4.07" fill="#fff"/></g>
<text transform="translate(447.9,77.9) scale(1,1.045)" font-size="17" fill="#000000" stroke="#000000" text-anchor="start">2</text>
<g transform="translate(549.1,77.9) scale(1,1.045)"><text font-size="17" fill="#000000" stroke="#000000" text-anchor="start">1</text><rect x="0.16" y="-2.87" width="3.76" height="4.07" fill="#fff"/><rect x="6.13" y="-2.87" width="3.63" height="4.07" fill="#fff"/></g>
<text transform="translate(627.9,77.9) scale(1,1.045)" font-size="17" fill="#000000" stroke="#000000" text-anchor="start">2</text>
<g transform="translate(228.4,217.7) scale(1,1.045)"><text font-size="17" fill="#000000" stroke="#000000" text-anchor="start">1</text><rect x="0.16" y="-2.87" width="3.76" height="4.07" fill="#fff"/><rect x="6.13" y="-2.87" width="3.63" height="4.07" fill="#fff"/></g>
<text transform="translate(287.5,217.7) scale(1,1.045)" font-size="17" fill="#000000" stroke="#000000" text-anchor="start">2</text>
<g transform="translate(648.4,137.9) scale(1,1.045)"><text font-size="17" fill="#000000" stroke="#000000" text-anchor="start">1</text><rect x="0.16" y="-2.87" width="3.76" height="4.07" fill="#fff"/><rect x="6.13" y="-2.87" width="3.63" height="4.07" fill="#fff"/></g>
<text transform="translate(708.2,137.9) scale(1,1.045)" font-size="17" fill="#000000" stroke="#000000" text-anchor="start">2</text>
<g transform="translate(488.5,197.6) scale(1,1.045)"><text font-size="17" fill="#000000" stroke="#000000" text-anchor="start">1</text><rect x="0.16" y="-2.87" width="3.76" height="4.07" fill="#fff"/><rect x="6.13" y="-2.87" width="3.63" height="4.07" fill="#fff"/></g>
<text transform="translate(488.3,257.2) scale(1,1.045)" font-size="17" fill="#000000" stroke="#000000" text-anchor="start">2</text>
<text transform="translate(488.3,317.1) scale(1,1.045)" font-size="17" fill="#000000" stroke="#000000" text-anchor="start">3</text>
<text transform="translate(488.3,376.9) scale(1,1.045)" font-size="17" fill="#000000" stroke="#000000" text-anchor="start">4</text>
<text transform="translate(708.8,197.6) scale(1,1.045)" font-size="17" fill="#000000" stroke="#000000" text-anchor="start">8</text>
<text transform="translate(708.5,257.2) scale(1,1.045)" font-size="17" fill="#000000" stroke="#000000" text-anchor="start">7</text>
<text transform="translate(708.3,317.1) scale(1,1.045)" font-size="17" fill="#000000" stroke="#000000" text-anchor="start">6</text>
<text transform="translate(708.3,376.9) scale(1,1.045)" font-size="17" fill="#000000" stroke="#000000" text-anchor="start">5</text>
<g transform="translate(230.2,317.1) scale(1,1.045)"><text font-size="17" fill="#000000" stroke="#000000" text-anchor="start">1</text><rect x="0.16" y="-2.87" width="3.76" height="4.07" fill="#fff"/><rect x="6.13" y="-2.87" width="3.63" height="4.07" fill="#fff"/></g>
<text transform="translate(288.2,317.1) scale(1,1.045)" font-size="17" fill="#000000" stroke="#000000" text-anchor="start">2</text>
<g transform="translate(289.9,376.9) scale(1,1.045)"><text font-size="17" fill="#000000" stroke="#000000" text-anchor="start">1</text><rect x="0.16" y="-2.87" width="3.76" height="4.07" fill="#fff"/><rect x="6.13" y="-2.87" width="3.63" height="4.07" fill="#fff"/></g>
<text transform="translate(347.9,376.9) scale(1,1.045)" font-size="17" fill="#000000" stroke="#000000" text-anchor="start">2</text>
<g transform="translate(149.6,476.5) scale(1,1.045)"><text font-size="17" fill="#000000" stroke="#000000" text-anchor="start">1</text><rect x="0.16" y="-2.87" width="3.76" height="4.07" fill="#fff"/><rect x="6.13" y="-2.87" width="3.63" height="4.07" fill="#fff"/></g>
<g transform="translate(149.6,576.1) scale(1,1.045)"><text font-size="17" fill="#000000" stroke="#000000" text-anchor="start">1</text><rect x="0.16" y="-2.87" width="3.76" height="4.07" fill="#fff"/><rect x="6.13" y="-2.87" width="3.63" height="4.07" fill="#fff"/></g>
<g transform="translate(1268.1,77.9) scale(1,1.045)"><text font-size="17" fill="#000000" stroke="#000000" text-anchor="start">1</text><rect x="0.16" y="-2.87" width="3.76" height="4.07" fill="#fff"/><rect x="6.13" y="-2.87" width="3.63" height="4.07" fill="#fff"/></g>
<g transform="translate(1268.4,316.9) scale(1,1.045)"><text font-size="17" fill="#000000" stroke="#000000" text-anchor="start">1</text><rect x="0.16" y="-2.87" width="3.76" height="4.07" fill="#fff"/><rect x="6.13" y="-2.87" width="3.63" height="4.07" fill="#fff"/></g>
<text transform="translate(886.6,365.2) rotate(-90) scale(1,1.045)" font-size="17" fill="#000000" stroke="#000000" text-anchor="start">2</text>
<g transform="translate(889.6,427.9) rotate(-90) scale(1,1.045)"><text font-size="17" fill="#000000" stroke="#000000" text-anchor="start">1</text><rect x="0.16" y="-2.87" width="3.76" height="4.07" fill="#fff"/><rect x="6.13" y="-2.87" width="3.63" height="4.07" fill="#fff"/></g>
<text transform="translate(173.48,296.64) scale(1,1.045)" font-size="17.5" fill="#400000" stroke="#400000" text-anchor="middle">GND</text>
<text transform="translate(233.44,436.12) scale(1,1.045)" font-size="17.5" fill="#400000" stroke="#400000" text-anchor="middle">GND</text>
<text transform="translate(453.29,555.68) scale(1,1.045)" font-size="17.5" fill="#400000" stroke="#400000" text-anchor="middle">GND</text>
<text transform="translate(793.05,555.68) scale(1,1.045)" font-size="17.5" fill="#400000" stroke="#400000" text-anchor="middle">GND</text>
<text transform="translate(1052.86,316.56) scale(1,1.045)" font-size="17.5" fill="#400000" stroke="#400000" text-anchor="middle">GND</text>
<text transform="translate(1192.77,535.75) scale(1,1.045)" font-size="17.5" fill="#400000" stroke="#400000" text-anchor="middle">GND</text>
<text transform="translate(776.99,147.88) scale(1,1.045)" font-size="17.5" fill="#400000" stroke="#400000" text-anchor="start">GND</text>
<text transform="translate(796.98,207.66) scale(1,1.045)" font-size="17.5" fill="#400000" stroke="#400000" text-anchor="start">GND</text>
</svg></body></html>
